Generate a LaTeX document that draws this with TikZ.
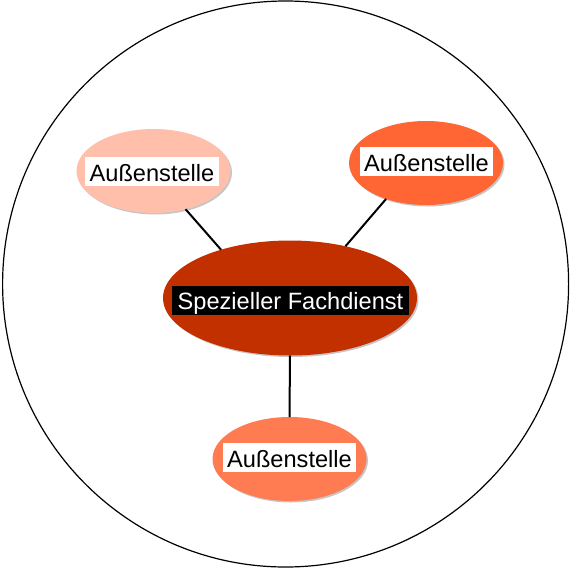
\documentclass[tikz,border=0pt]{standalone}
\usepackage{fontspec}
\setmainfont{Liberation Sans}
\usetikzlibrary{shapes.geometric,shadows}

\definecolor{paleSalmon}{HTML}{FFBFAA}
\definecolor{brightOrange}{HTML}{FF6633}
\definecolor{coralOrange}{HTML}{FF7C52}
\definecolor{rustRed}{HTML}{C23000}

\tikzset{
  branch/.style={ellipse, draw=none, inner sep=0pt, outer sep=0pt,
    minimum width=154pt, minimum height=84pt,
    drop shadow={shadow xshift=1.5pt, shadow yshift=-1.5pt, opacity=0.45}},
  hub/.style={branch, minimum width=254pt, minimum height=115pt},
  tag/.style={fill=white, text=black, inner xsep=4.5pt, inner ysep=2pt,
    text height=22pt, text depth=3pt,
    font=\fontsize{23.6}{28}\selectfont},
  hubtag/.style={tag, fill=black, text=white, inner xsep=5.5pt,
    text height=21pt, text depth=4pt},
  link/.style={draw=black, line width=2pt}
}

\begin{document}
\begin{tikzpicture}[x=1pt, y=-1pt]
  \useasboundingbox (0,0) rectangle (573,568);

  % outer boundary
  \node[circle, draw=black, line width=1.2pt, minimum size=566pt,
        inner sep=0pt, outer sep=0pt] (ring) at (285.6,284) {};

  % ellipses
  \node[hub, fill=rustRed] (hubE) at (290,298) {};
  \node[branch, fill=paleSalmon] (nw) at (153.5,171) {};
  \node[branch, fill=brightOrange] (ne) at (426,163) {};
  \node[branch, fill=coralOrange] (so) at (289.5,459) {};

  % connectors
  \draw[link] (nw.-50) -- (hubE.145);
  \draw[link] (ne.-138) -- (hubE.43);
  \draw[link] (hubE.south) -- (so.north);

  % labels
  \node[hubtag] (hubL) at (290.5,300.5) {Spezieller Fachdienst};
  \node[tag] (nwL) at (152,171.5) {Außenstelle};
  \node[tag] (neL) at (426.5,161.5) {Außenstelle};
  \node[tag] (soL) at (289.5,457.5) {Außenstelle};
\end{tikzpicture}
\end{document}
